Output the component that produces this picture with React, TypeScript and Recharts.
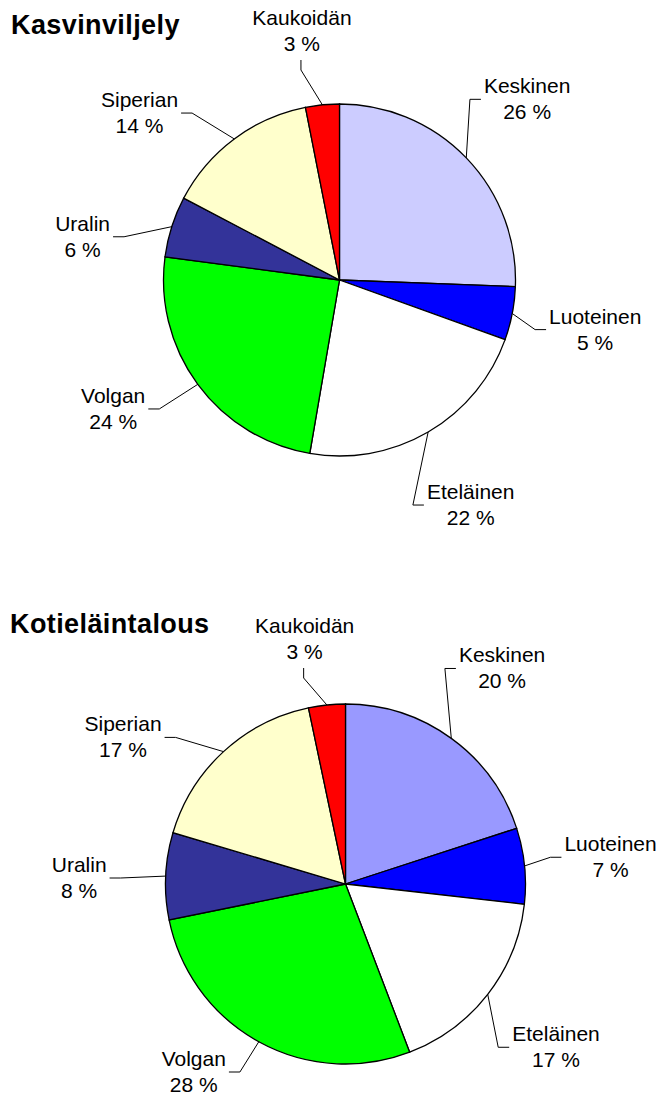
import React from 'react';
import { PieChart, Pie, Cell } from 'recharts';

const regions = ['Keskinen', 'Luoteinen', 'Eteläinen', 'Volgan', 'Uralin', 'Siperian', 'Kaukoidän'];
const cropShares = [25.6, 4.9, 22.2, 24.4, 5.6, 14.2, 3.1];
const livestockShares = [20.0, 6.8, 17.4, 27.6, 7.8, 17.1, 3.3];
const chartTitles = ['Kasvinviljely', 'Kotieläintalous'];

const cropColors = ['#CCCCFF', '#0000FF', '#FFFFFF', '#00FF00', '#333399', '#FFFFCC', '#FF0000'];
const livestockColors = ['#9999FF', '#0000FF', '#FFFFFF', '#00FF00', '#333399', '#FFFFCC', '#FF0000'];

const cropData = regions.map((name, i) => ({ name, value: cropShares[i] }));
const livestockData = regions.map((name, i) => ({ name, value: livestockShares[i] }));

const FONT = "'Liberation Sans', Arial, sans-serif";
const LABEL_SIZE = 21;

let measureCtx: CanvasRenderingContext2D | null = null;
function textWidth(s: string): number {
  if (!measureCtx && typeof document !== 'undefined') {
    const c = document.createElement('canvas');
    measureCtx = c.getContext('2d');
  }
  if (!measureCtx) return s.length * LABEL_SIZE * 0.55;
  measureCtx.font = `${LABEL_SIZE}px ${FONT}`;
  return measureCtx.measureText(s).width;
}

function makeLabel(top: number, bottom: number) {
  return (props: any) => {
    const { cx, cy, midAngle, outerRadius, percent, index } = props;
    const name = props.payload?.name ?? props.name;
    const rad = Math.PI / 180;
    // leader start on the rim at the slice's middle angle
    const c0 = Math.cos(-midAngle * rad);
    const s0 = Math.sin(-midAngle * rad);
    const sx = cx + outerRadius * c0;
    const sy = cy + outerRadius * s0;
    // labels on the left side lean toward the horizontal (best-fit style)
    let a = midAngle;
    if (c0 < 0) {
      const d = (a - 180) * rad;
      const amp = s0 < 0 ? 14 : 7;
      a = a - amp * Math.sin(2 * d);
    }
    const c = Math.cos(-a * rad);
    const s = Math.sin(-a * rad);
    const D = outerRadius * 1.48;
    const lx = cx + D * c;
    let ly = cy + D * s;
    ly = Math.max(top + 27, Math.min(bottom - 23, ly));
    const pct = `${Math.round(percent * 100)} %`;
    const halfW = Math.max(textWidth(name), textWidth(pct)) / 2;
    let points = '';
    if (Math.abs(lx - cx) < halfW) {
      if (ly < cy) {
        const ay = ly + 29;
        points = `${sx},${sy} ${lx - 1},${ay + 10} ${lx - 1},${ay}`;
      } else {
        const ay = ly - 25;
        points = `${sx},${sy} ${lx - 1},${ay - 10} ${lx - 1},${ay}`;
      }
    } else if (lx > cx) {
      const ax = lx - halfW - 3;
      points = `${sx},${sy} ${ax - 11},${ly} ${ax},${ly}`;
    } else {
      const ax = lx + halfW + 3;
      points = `${sx},${sy} ${ax + 11},${ly} ${ax},${ly}`;
    }
    return (
      <g key={`lbl-${index}`}>
        <polyline points={points} fill="none" stroke="#000" strokeWidth={1} />
        <text x={lx} y={ly - 6} textAnchor="middle" fontFamily={FONT} fontSize={LABEL_SIZE} fill="#000">
          {name}
        </text>
        <text x={lx} y={ly + 20} textAnchor="middle" fontFamily={FONT} fontSize={LABEL_SIZE} fill="#000">
          {pct}
        </text>
      </g>
    );
  };
}

const titleStyle: React.CSSProperties = {
  position: 'absolute',
  fontFamily: FONT,
  fontWeight: 'bold',
  fontSize: 27,
  letterSpacing: 0.4,
  lineHeight: '27px',
  color: '#000',
  whiteSpace: 'nowrap',
};

const noMargin = { top: 0, right: 0, bottom: 0, left: 0 };

export default function App() {
  return (
    <div style={{ position: 'absolute', left: 0, top: 0, width: 662, height: 1095, background: '#fff' }}>
      <PieChart width={662} height={1095} margin={noMargin} style={{ position: 'absolute', left: 0, top: 0 }}>
        <Pie
          data={cropData}
          dataKey="value"
          nameKey="name"
          cx={339.5}
          cy={280}
          outerRadius={176}
          startAngle={90}
          endAngle={-270}
          stroke="#000"
          strokeWidth={1.3}
          isAnimationActive={false}
          labelLine={false}
          label={makeLabel(4, 560)}
        >
          {cropData.map((d, i) => (
            <Cell key={d.name} fill={cropColors[i]} stroke="#000" strokeWidth={1.3} />
          ))}
        </Pie>
        <Pie
          data={livestockData}
          dataKey="value"
          nameKey="name"
          cx={345.5}
          cy={884}
          outerRadius={180}
          startAngle={90}
          endAngle={-270}
          stroke="#000"
          strokeWidth={1.3}
          isAnimationActive={false}
          labelLine={false}
          label={makeLabel(612, 1095)}
        >
          {livestockData.map((d, i) => (
            <Cell key={d.name} fill={livestockColors[i]} stroke="#000" strokeWidth={1.3} />
          ))}
        </Pie>
      </PieChart>
      <div style={{ ...titleStyle, left: 11, top: 12 }}>{chartTitles[0]}</div>
      <div style={{ ...titleStyle, left: 10, top: 611 }}>{chartTitles[1]}</div>
    </div>
  );
}
